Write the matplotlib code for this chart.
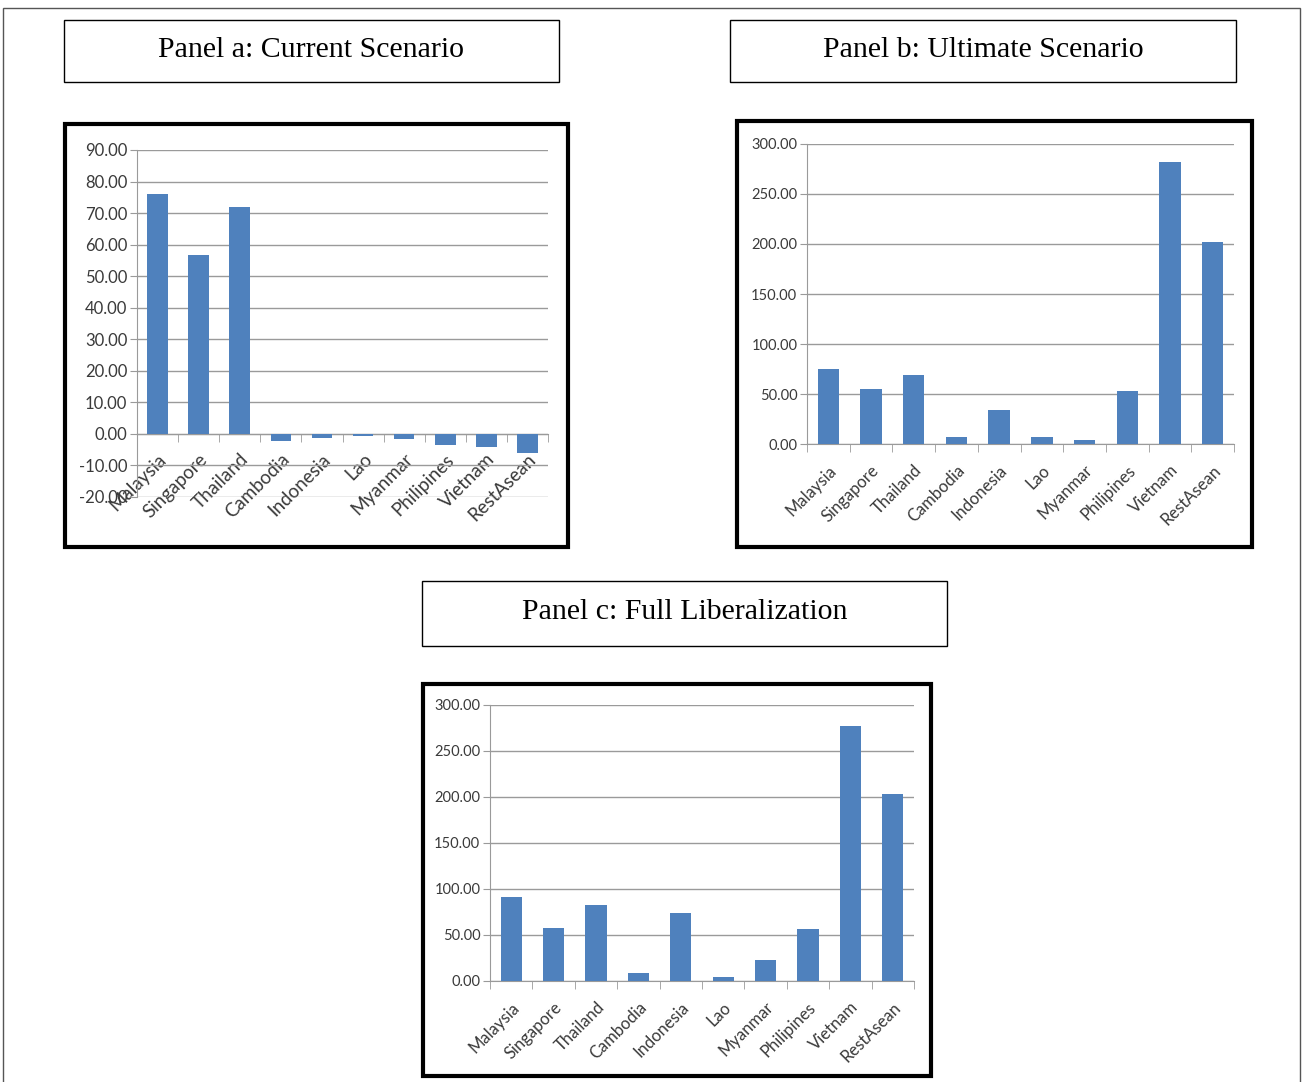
import matplotlib.pyplot as plt
import matplotlib.patches as patches
import numpy as np

# Datos de los tres paneles
paises = ['Malaysia', 'Singapore', 'Thailand', 'Cambodia', 'Indonesia',
          'Lao', 'Myanmar', 'Philipines', 'Vietnam', 'RestAsean']
actual = [76.2, 56.6, 71.8, -2.4, -1.2, -0.8, -1.6, -3.6, -4.2, -6.2]
ultimo = [74.7, 55.0, 69.0, 7.0, 34.0, 7.0, 4.0, 53.0, 281.5, 201.5]
libre = [91.4, 57.7, 83.0, 8.3, 74.4, 4.7, 22.9, 56.6, 276.8, 203.5]

titulos = ['Panel a: Current Scenario', 'Panel b: Ultimate Scenario',
           'Panel c: Full Liberalization']

W, H = 1302, 1082
AZUL = '#4F81BD'
GRIS = '#3A3A3A'

fig = plt.figure(figsize=(W / 100, H / 100), dpi=100)


def rect_fig(l, t, r, b):
    """pixeles -> coordenadas de figura"""
    return [l / W, 1 - b / H, (r - l) / W, (b - t) / H]


def caja(l, t, r, b, lw, color='black'):
    x, y, w, h = rect_fig(l, t, r, b)
    fig.patches.append(patches.Rectangle((x, y), w, h, transform=fig.transFigure,
                                         fill=False, lw=lw, edgecolor=color))


def titulo(l, t, r, b, texto):
    caja(l, t, r, b, 1.0)
    x, y, w, h = rect_fig(l, t, r, b)
    fig.text(x + w / 2, y + h / 2 + 0.001, texto, ha='center', va='center',
             family='Liberation Serif', fontsize=21.5)


def grafica(pos, valores, ylim, paso, fs_y, fs_x, pad):
    ax = fig.add_axes(rect_fig(*pos))
    x = np.arange(len(paises))
    ax.bar(x, valores, width=0.5, color=AZUL, zorder=3)
    ax.set_xlim(-0.5, len(paises) - 0.5)
    ax.set_ylim(*ylim)
    marcas = np.arange(ylim[0], ylim[1] + 1, paso)
    ax.set_yticks(marcas)
    ax.set_yticklabels(['%.2f' % v for v in marcas],
                       family='Lato', fontsize=fs_y, color=GRIS)
    ax.yaxis.grid(True, color='#9A9A9A', lw=1.0, zorder=0)
    for s in ['top', 'right']:
        ax.spines[s].set_visible(False)
    ax.spines['left'].set_color('#9A9A9A')
    ax.spines['bottom'].set_color('#9A9A9A')
    ax.spines['bottom'].set_position(('data', 0))
    ax.tick_params(axis='y', length=5, color='#9A9A9A', pad=2)
    # marcas entre categorias
    ax.set_xticks(np.arange(-0.5, len(paises)), minor=True)
    ax.tick_params(axis='x', which='minor', length=6, color='#9A9A9A', direction='out')
    ax.set_xticks(x)
    ax.set_xticklabels(paises, rotation=45, ha='right', rotation_mode='anchor',
                       family='Lato', fontsize=fs_x, color=GRIS)
    ax.tick_params(axis='x', which='major', length=0, pad=pad)
    return ax


# Panel a
titulo(64, 20, 559, 82, titulos[0])
caja(65, 124, 568, 547, 3.0)
grafica((137, 150, 548, 497), actual, (-20, 90), 10, 12, 13.5, 12)

# Panel b
titulo(730, 20, 1236, 82, titulos[1])
caja(737, 121, 1252, 547, 3.0)
grafica((807, 144, 1234, 444), ultimo, (0, 300), 50, 10.5, 12, 13)

# Panel c
titulo(422, 581, 947, 646, titulos[2])
caja(423, 684, 931, 1076, 3.0)
grafica((490, 705, 914, 981), libre, (0, 300), 50, 10.5, 12, 13)

# marco exterior
caja(2.5, 7.5, 1300, 1100, 1.0, color='#555555')

fig.savefig('out.png', dpi=100)
